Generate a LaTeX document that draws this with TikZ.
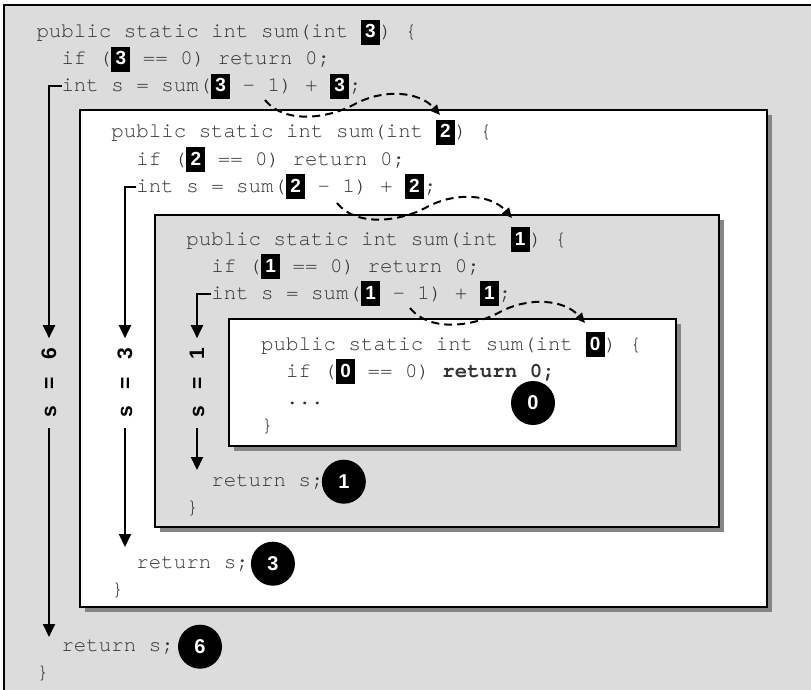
\documentclass[tikz,border=0pt]{standalone}
\usepackage{fontspec}
\setmainfont{Liberation Sans}
\setsansfont{Liberation Sans}
\setmonofont{TeX Gyre Cursor}
\usetikzlibrary{arrows.meta,positioning,shadows}
\definecolor{panelgray}{HTML}{DCDCDC}
\definecolor{shadowgray}{HTML}{858585}
\newcommand{\argnum}[1]{{\setlength{\fboxsep}{0pt}\colorbox{black}{\makebox[19pt]{\rule[-7pt]{0pt}{25pt}\textcolor{white}{\fontsize{19}{19}\selectfont\sffamily\bfseries #1}}}}}

\begin{document}
\begin{tikzpicture}[x=1pt,y=-1pt,
  codeline/.style={anchor=base west,inner sep=0pt,outer sep=0pt,text=black!80,font=\fontsize{20.8}{27}\selectfont\ttfamily},
  callframe/.style={draw=black,line width=2pt},
  shadowed/.style={drop shadow={shadow xshift=5pt,shadow yshift=-5pt,fill=shadowgray,opacity=1}},
  flow/.style={line width=2pt,-{Triangle[width=12pt,length=13pt]}},
  sumlabel/.style={rotate=90,inner xsep=10pt,inner ysep=2pt,outer sep=0pt,font=\fontsize{21}{21}\selectfont\sffamily\bfseries,execute at begin node={\spaceskip=17pt\relax}},
  resultdot/.style={circle,fill=black,text=white,minimum size=44pt,inner sep=0pt,font=\fontsize{20}{20}\selectfont\sffamily\bfseries},
  recursion/.style={line width=2pt,dash pattern=on 8pt off 5pt,-{Triangle[width=9pt,length=10pt]}}]
  \useasboundingbox (0,0) rectangle (811,690);
  \clip (0,0) rectangle (811,690);

  % frames, outer to inner
  \draw[callframe,fill=panelgray] (4,5) rectangle (840,720);
  \draw[callframe,fill=white,shadowed] (80,110) rectangle (767,607);
  \draw[callframe,fill=panelgray,shadowed] (155,215) rectangle (719,527);
  \draw[callframe,fill=white,shadowed] (229,319) rectangle (676,446);

  % sum(3)
  \node[codeline] (l0a) at (36.5,38) {public static int sum(int \argnum{3}) \{};
  \node[codeline] (l0b) at (61.5,65) {if (\argnum{3} == 0) return 0;};
  \node[codeline] (l0c) at (61.5,92) {int s = sum(\argnum{3} - 1) + \argnum{3};};
  \node[codeline] (r0) at (61.5,651) {return s;};
  \node[codeline] (e0) at (36.5,678) {\}};
  \node[resultdot,right=4pt of r0] (d6) {6};

  % sum(2)
  \node[codeline] (l1a) at (111.4,138) {public static int sum(int \argnum{2}) \{};
  \node[codeline] (l1b) at (136.4,165) {if (\argnum{2} == 0) return 0;};
  \node[codeline] (l1c) at (136.4,192) {int s = sum(\argnum{2} - 1) + \argnum{2};};
  \node[codeline] (r1) at (136.4,568) {return s;};
  \node[codeline] (e1) at (111.4,595) {\}};
  \node[resultdot,right=2pt of r1] (d3) {3};

  % sum(1)
  \node[codeline] (l2a) at (186.3,245) {public static int sum(int \argnum{1}) \{};
  \node[codeline] (l2b) at (211.3,272) {if (\argnum{1} == 0) return 0;};
  \node[codeline] (l2c) at (211.3,299) {int s = sum(\argnum{1} - 1) + \argnum{1};};
  \node[codeline] (r2) at (211.3,486) {return s;};
  \node[codeline] (e2) at (186.3,513) {\}};
  \node[resultdot,right=-2pt of r2] (d1) {1};

  % sum(0)
  \node[codeline] (l3a) at (261.2,350) {public static int sum(int \argnum{0}) \{};
  \node[codeline] (l3b) at (286.2,377) {if (\argnum{0} == 0) \textbf{return 0;}};
  \node[codeline] (l3c) at (286.2,404) {...};
  \node[codeline] (e3) at (261.2,431) {\}};
  \node[resultdot] (d0) at (533,403) {0};

  % values coming back
  \node[sumlabel] (v6) at (49,383) {s = 6};
  \node[sumlabel] (v3) at (125,383) {s = 3};
  \node[sumlabel] (v1) at (197,383) {s = 1};
  \coordinate (end6) at (49,637);
  \coordinate (end3) at (125,547);
  \coordinate (end1) at (197,470);
  \draw[flow] (l0c.west) -| (v6.east);
  \draw[flow] (v6.west) -- (end6);
  \draw[flow] (l1c.west) -| (v3.east);
  \draw[flow] (v3.west) -- (end3);
  \draw[flow] (l2c.west) -| (v1.east);
  \draw[flow] (v1.west) -- (end1);

  % recursive calls
  \coordinate (call0) at (265,100);
  \coordinate (arg1) at (440,115);
  \coordinate (call1) at (337,203);
  \coordinate (arg2) at (512,218);
  \coordinate (call2) at (410,308);
  \coordinate (arg3) at (585,323);
  \draw[recursion] (call0) .. controls +(20,25) and +(-25,14) .. ++(90,4) .. controls +(30,-16) and +(-20,-23) .. (arg1);
  \draw[recursion] (call1) .. controls +(20,25) and +(-25,14) .. ++(90,4) .. controls +(30,-16) and +(-20,-23) .. (arg2);
  \draw[recursion] (call2) .. controls +(20,25) and +(-25,14) .. ++(90,4) .. controls +(30,-16) and +(-20,-23) .. (arg3);
\end{tikzpicture}
\end{document}
